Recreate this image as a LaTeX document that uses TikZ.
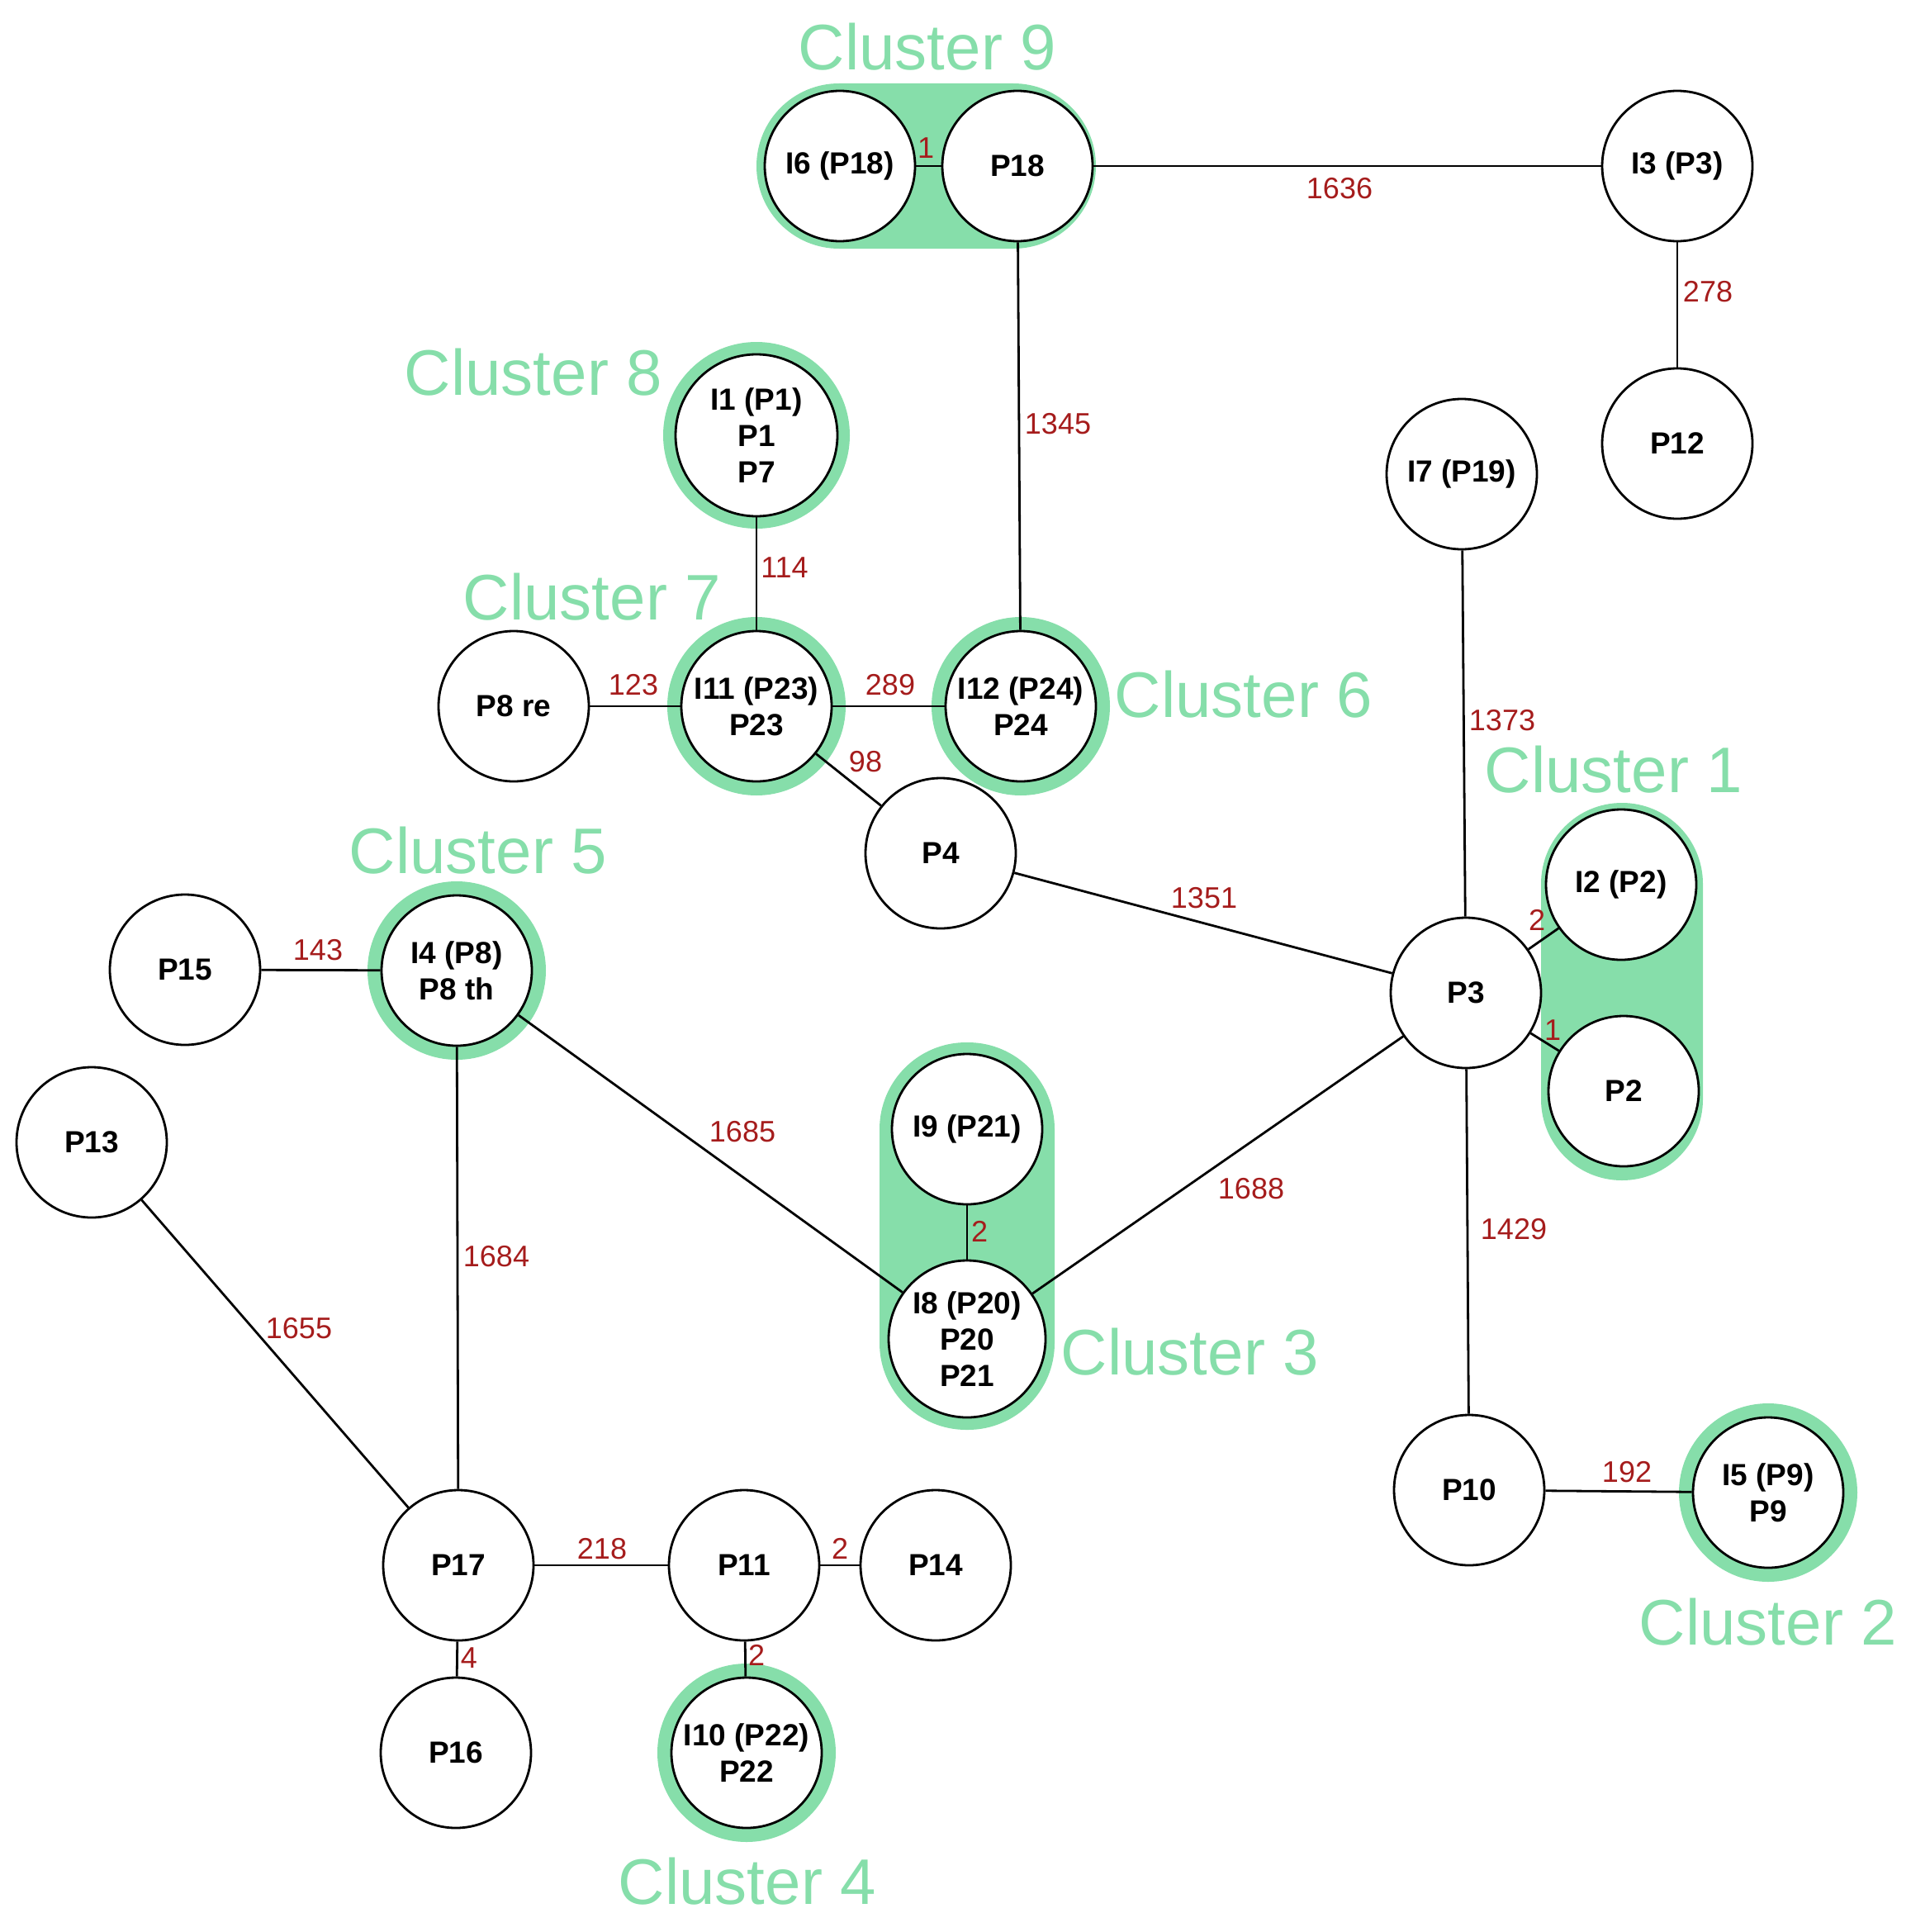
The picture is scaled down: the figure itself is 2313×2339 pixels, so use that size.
\documentclass[tikz,border=0pt]{standalone}
\usepackage{fontspec}
\setmainfont{Liberation Sans}
\usetikzlibrary{backgrounds}
\definecolor{cgreen}{RGB}{134,222,170}
\definecolor{cred}{RGB}{165,28,28}
\begin{document}
\begin{tikzpicture}[x=1pt,y=-1pt,
  pnode/.style={circle,draw=black,line width=2.8pt,fill=white,minimum size=182pt,inner sep=0pt,align=center,font=\bfseries\fontsize{37}{44}\selectfont},
  elabel/.style={text=cred,font=\fontsize{36}{40}\selectfont,inner sep=0pt},
  clabel/.style={text=cgreen,font=\fontsize{78}{80}\selectfont,inner sep=0pt,anchor=base},
  edge/.style={line width=2.8pt}]
\useasboundingbox (0,0) rectangle (2313,2339);

% nodes
\node[pnode] (i6) at (1017,201) {I6 (P18)};
\node[pnode] (p18) at (1232,201) {P18};
\node[pnode] (i3) at (2031,201) {I3 (P3)};
\node[pnode] (p12) at (2031,537) {P12};
\node[pnode,minimum size=196pt] (i1) at (916,527) {I1 (P1)\\P1\\P7};
\node[pnode] (i7) at (1770,574) {I7 (P19)};
\node[pnode] (p8re) at (622,855) {P8 re};
\node[pnode] (i11) at (916,855) {I11 (P23)\\P23};
\node[pnode] (i12) at (1236,855) {I12 (P24)\\P24};
\node[pnode] (p4) at (1139,1033) {P4};
\node[pnode] (i2) at (1963,1071) {I2 (P2)};
\node[pnode] (p3) at (1775,1202) {P3};
\node[pnode] (p2) at (1966,1321) {P2};
\node[pnode] (p15) at (224,1174) {P15};
\node[pnode] (i4) at (553,1175) {I4 (P8)\\P8 th};
\node[pnode] (p13) at (111,1383) {P13};
\node[pnode] (i9) at (1171,1367) {I9 (P21)};
\node[pnode,minimum size=190pt] (i8) at (1171,1621) {I8 (P20)\\P20\\P21};
\node[pnode] (p10) at (1779,1804) {P10};
\node[pnode] (i5) at (2141,1807) {I5 (P9)\\P9};
\node[pnode] (p17) at (555,1895) {P17};
\node[pnode] (p11) at (901,1895) {P11};
\node[pnode] (p14) at (1133,1895) {P14};
\node[pnode] (p16) at (552,2122) {P16};
\node[pnode] (i10) at (904,2122) {I10 (P22)\\P22};

% cluster backgrounds
\begin{scope}[on background layer]
\fill[cgreen,rounded corners=100pt] (916,101) rectangle (1327,301);
\fill[cgreen,rounded corners=98pt] (1866,972) rectangle (2062,1429);
\fill[cgreen,rounded corners=105pt] (1065,1262) rectangle (1277,1731);
\foreach \n in {i11,i12,i4,i5,i10} \fill[cgreen] (\n.center) circle[radius=108pt];
\fill[cgreen] (i1.center) circle[radius=113pt];
\end{scope}

% edges
\draw[edge] (i6) -- (p18);
\draw[edge] (p18) -- (i3);
\draw[edge] (i3) -- (p12);
\draw[edge] (p18) -- (i12);
\draw[edge] (i1) -- (i11);
\draw[edge] (p8re) -- (i11);
\draw[edge] (i11) -- (i12);
\draw[edge] (i11) -- (p4);
\draw[edge] (p4) -- (p3);
\draw[edge] (i7) -- (p3);
\draw[edge] (p3) -- (i2);
\draw[edge] (p3) -- (p2);
\draw[edge] (p3) -- (i8);
\draw[edge] (p3) -- (p10);
\draw[edge] (p10) -- (i5);
\draw[edge] (p15) -- (i4);
\draw[edge] (i4) -- (i8);
\draw[edge] (i4) -- (p17);
\draw[edge] (i9) -- (i8);
\draw[edge] (p13) -- (p17);
\draw[edge] (p17) -- (p11);
\draw[edge] (p11) -- (p14);
\draw[edge] (p17) -- (p16);
\draw[edge] (p11) -- (i10);

% edge labels
\node[elabel] (l1) at (1121,179) {1};
\node[elabel] (l2) at (1622,228) {1636};
\node[elabel] (l3) at (2068,353) {278};
\node[elabel] (l4) at (1281,513) {1345};
\node[elabel] (l5) at (950,687) {114};
\node[elabel] (l6) at (767,829) {123};
\node[elabel] (l7) at (1078,829) {289};
\node[elabel] (l8) at (1048,922) {98};
\node[elabel] (l9) at (1819,872) {1373};
\node[elabel] (l10) at (1458,1087) {1351};
\node[elabel] (l11) at (1861,1114) {2};
\node[elabel] (l12) at (1880,1247) {1};
\node[elabel] (l13) at (385,1150) {143};
\node[elabel] (l14) at (899,1370) {1685};
\node[elabel] (l15) at (1515,1439) {1688};
\node[elabel] (l16) at (1833,1488) {1429};
\node[elabel] (l17) at (1186,1491) {2};
\node[elabel] (l18) at (601,1521) {1684};
\node[elabel] (l19) at (362,1608) {1655};
\node[elabel] (l20) at (1970,1782) {192};
\node[elabel] (l21) at (729,1875) {218};
\node[elabel] (l22) at (1017,1875) {2};
\node[elabel] (l23) at (568,2007) {4};
\node[elabel] (l24) at (916,2004) {2};

% cluster labels
\node[clabel] (c9) at (1123,85) {Cluster 9};
\node[clabel] (c8) at (646,478) {Cluster 8};
\node[clabel] (c7) at (717,750) {Cluster 7};
\node[clabel] (c6) at (1506,868) {Cluster 6};
\node[clabel] (c1) at (1954,959) {Cluster 1};
\node[clabel] (c5) at (579,1057) {Cluster 5};
\node[clabel] (c3) at (1441,1664) {Cluster 3};
\node[clabel] (c2) at (2141,1991) {Cluster 2};
\node[clabel] (c4) at (905,2305) {Cluster 4};
\end{tikzpicture}
\end{document}
